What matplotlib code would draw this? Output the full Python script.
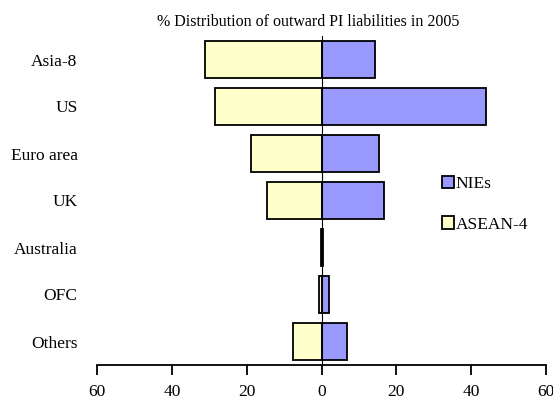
import matplotlib
matplotlib.use("Agg")
import matplotlib.pyplot as plt
from matplotlib.patches import Patch

regions = ["Asia-8", "US", "Euro area", "UK", "Australia", "OFC", "Others"]
nies = [14.3, 43.9, 15.4, 16.6, 0.3, 2.0, 6.8]
asean4 = [31.2, 28.5, 18.9, 14.5, 0.2, 0.6, 7.6]
xticks = [-60, -40, -20, 0, 20, 40, 60]
xtick_labels = ["60", "40", "20", "0", "20", "40", "60"]

plt.rcParams["font.family"] = ["Liberation Serif", "DejaVu Serif"]

fig = plt.figure(figsize=(5.53, 4.01), dpi=100)
ax = fig.add_axes([97 / 553, 36 / 401, (546 - 97) / 553, (365 - 36) / 401])

nies_color = "#9999FF"
asean_color = "#FFFFCC"

y = list(range(len(regions)))
ax.barh(y, [-v for v in asean4], height=0.8, color=asean_color,
        edgecolor="black", linewidth=1.3, zorder=2)
ax.barh(y, nies, height=0.8, color=nies_color,
        edgecolor="black", linewidth=1.3, zorder=2)
ax.axvline(0, color="black", linewidth=0.8, zorder=3)

ax.set_xlim(-60, 60)
ax.set_ylim(len(regions) - 0.5, -0.5)
ax.set_yticks(y)
ax.set_yticklabels(regions, fontsize=12.5)
ax.tick_params(axis="y", length=0, pad=14)
ax.set_xticks(xticks)
ax.set_xticklabels(xtick_labels, fontsize=12.5)
ax.tick_params(axis="x", length=7, width=1.3, pad=7, direction="out")

for side in ["left", "right", "top"]:
    ax.spines[side].set_visible(False)
ax.spines["bottom"].set_linewidth(1.3)

fig.text(308 / 553, 1 - 22 / 401, "% Distribution of outward PI liabilities in 2005",
         ha="center", va="center", fontsize=11.5)

handles = [Patch(facecolor=nies_color, edgecolor="black", linewidth=1.3, label="NIEs"),
           Patch(facecolor=asean_color, edgecolor="black", linewidth=1.3, label="ASEAN-4")]
ax.legend(handles=handles, loc="upper left", bbox_to_anchor=(442 / 553, 1 - 176 / 401),
          bbox_transform=fig.transFigure, frameon=False, fontsize=12.5,
          handlelength=0.7, handleheight=0.7, handletextpad=0.1,
          labelspacing=1.4, borderpad=0, borderaxespad=0)

fig.savefig("out.png", dpi=100)
